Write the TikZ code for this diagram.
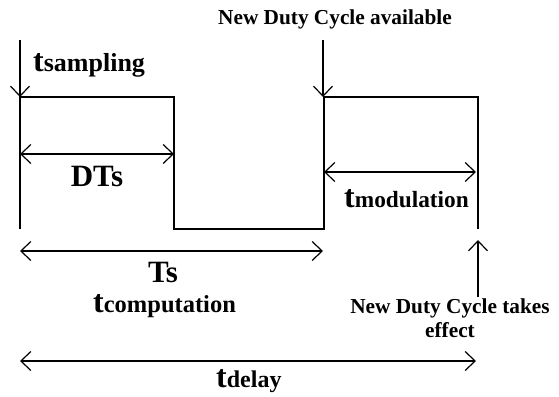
\documentclass[tikz,border=0pt]{standalone}
\usepackage{fontspec}
\setmainfont{Liberation Serif}
\usetikzlibrary{arrows.meta}

\newcommand{\tname}[2][24.5]{{\fontsize{32}{32}\selectfont t}{\fontsize{#1}{#1}\selectfont #2}}

\tikzset{
    lbl/.style={font=\bfseries, inner sep=0pt},
    note/.style={lbl, font=\bfseries\fontsize{21.3}{24}\selectfont},
    big/.style={lbl, font=\bfseries\fontsize{31}{31}\selectfont},
    dim/.style={line width=1.2pt, {Straight Barb[length=10pt,width=19pt]}-{Straight Barb[length=10pt,width=19pt]}},
    eventarrow/.style={line width=1.2pt, -{Straight Barb[length=10pt,width=19pt]}}
}

\begin{document}
\begin{tikzpicture}[x=1pt, y=-1pt]
    \useasboundingbox (0,0) rectangle (559,396);

    % waveform corners
    \coordinate (a0) at (20,229); \coordinate (a1) at (20,97);
    \coordinate (a2) at (174,97); \coordinate (a3) at (174,229);
    \coordinate (a4) at (324,229); \coordinate (a5) at (324,97);
    \coordinate (a6) at (478,97); \coordinate (a7) at (478,229);
    \draw[line width=1.2pt] (a0)--(a1)--(a2)--(a3)--(a4)--(a5)--(a6)--(a7);

    % events
    \coordinate (s0) at (20,40);
    \draw[eventarrow] (s0) -- (a1);
    \node[lbl, anchor=base west] (samp) at (33,71) {\tname[26]{sampling}};

    \coordinate (n0) at (323,40); \coordinate (n1) at (323,97);
    \draw[eventarrow] (n0) -- (n1);
    \node[note, anchor=base] (avail) at (335,25) {New Duty Cycle available};

    \node[note, anchor=north, align=center] (takes) at (450,299) {New Duty Cycle takes\\effect};
    \coordinate (e0) at (478,297); \coordinate (e1) at (478,240);
    \draw[eventarrow] (e0) -- (e1);

    % intervals
    \coordinate (d0) at (20,154); \coordinate (d1) at (174,154);
    \draw[dim] (d0) -- (d1);
    \node[big, anchor=base] (dts) at (97,186) {DTs};

    \coordinate (m0) at (324,172); \coordinate (m1) at (476,172);
    \draw[dim] (m0) -- (m1);
    \node[lbl, anchor=base west] (mod) at (344,207) {\tname[23.3]{modulation}};

    \coordinate (t0) at (20,251); \coordinate (t1) at (323,251);
    \draw[dim] (t0) -- (t1);
    \node[big, anchor=base] (ts) at (163,282) {Ts};
    \node[lbl, anchor=base west] (comp) at (93,312) {\tname[24.5]{computation}};

    \coordinate (y0) at (20,361); \coordinate (y1) at (476,361);
    \draw[dim] (y0) -- (y1);
    \node[lbl, anchor=base west] (del) at (216,387) {\tname[24]{delay}};
\end{tikzpicture}
\end{document}
